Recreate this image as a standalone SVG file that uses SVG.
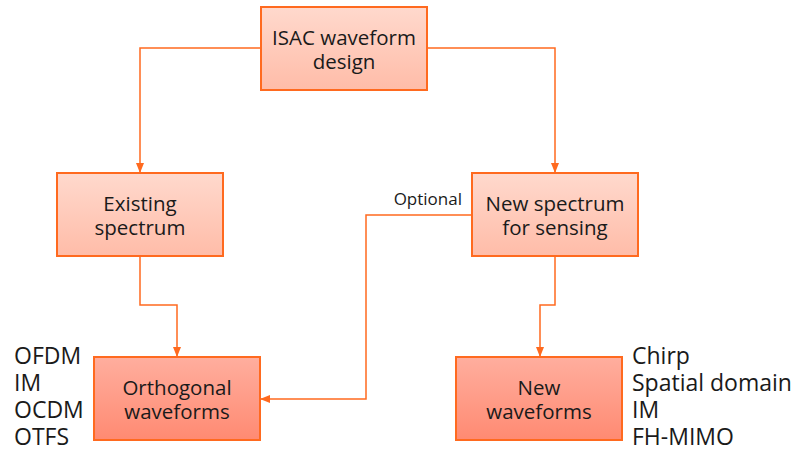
<svg xmlns="http://www.w3.org/2000/svg" width="798" height="450" viewBox="0 0 798 450">
<defs>
<linearGradient id="g1" x1="0" y1="0" x2="0" y2="1"><stop offset="0" stop-color="#FFD9CD"/><stop offset="1" stop-color="#FFBCA8"/></linearGradient>
<linearGradient id="g2" x1="0" y1="0" x2="0" y2="1"><stop offset="0" stop-color="#FFAE9E"/><stop offset="1" stop-color="#FF8A72"/></linearGradient>
<marker id="ah" markerWidth="10" markerHeight="10" refX="9" refY="5" orient="auto" markerUnits="userSpaceOnUse"><path d="M0,1 L10,5 L0,9 Z" fill="#FF6A1F"/></marker>
<style>
.box1{fill:url(#g1);stroke:#FF6A1F;stroke-width:2}
.box2{fill:url(#g2);stroke:#FF6A1F;stroke-width:2}
.t{font-family:"Open Sans","DejaVu Sans",sans-serif;font-size:20.5px;fill:#1a1a1a;text-anchor:middle}
.l{font-family:"Open Sans","DejaVu Sans",sans-serif;font-size:23px;fill:#1a1a1a}
.s{font-family:"Open Sans","DejaVu Sans",sans-serif;font-size:17px;fill:#1a1a1a;text-anchor:end}
.c{fill:none;stroke:#FF6A1F;stroke-width:1.5}
</style>
</defs>
<g id="connectors">
<path class="c" d="M261,48 H140 V172" marker-end="url(#ah)"/>
<path class="c" d="M427,48 H555 V172" marker-end="url(#ah)"/>
<path class="c" d="M140,256 V305 H177 V356" marker-end="url(#ah)"/>
<path class="c" d="M555,256 V305 H540 V356" marker-end="url(#ah)"/>
<path class="c" d="M472,215 H366 V399 H261" marker-end="url(#ah)"/>
<text class="s" x="462" y="205">Optional</text>
</g>
<g id="isac"><rect class="box1" x="261" y="7" width="166" height="83"/><text class="t" x="344" y="45">ISAC waveform</text><text class="t" x="344" y="69">design</text></g>
<g id="existing"><rect class="box1" x="57" y="173" width="166" height="83"/><text class="t" x="140" y="211">Existing</text><text class="t" x="140" y="235">spectrum</text></g>
<g id="newspec"><rect class="box1" x="472" y="173" width="166" height="83"/><text class="t" x="555" y="211">New spectrum</text><text class="t" x="555" y="235">for sensing</text></g>
<g id="orth"><rect class="box2" x="94" y="357" width="166" height="83"/><text class="t" x="177" y="395">Orthogonal</text><text class="t" x="177" y="419">waveforms</text></g>
<g id="newwave"><rect class="box2" x="456" y="357" width="166" height="83"/><text class="t" x="539" y="395">New</text><text class="t" x="539" y="419">waveforms</text></g>
<g id="leftlabels"><text class="l" x="14" y="364">OFDM</text><text class="l" x="14" y="391">IM</text><text class="l" x="14" y="418">OCDM</text><text class="l" x="14" y="445">OTFS</text></g>
<g id="rightlabels"><text class="l" x="632" y="364">Chirp</text><text class="l" x="632" y="391">Spatial domain</text><text class="l" x="632" y="418">IM</text><text class="l" x="632" y="445">FH-MIMO</text></g>
</svg>
